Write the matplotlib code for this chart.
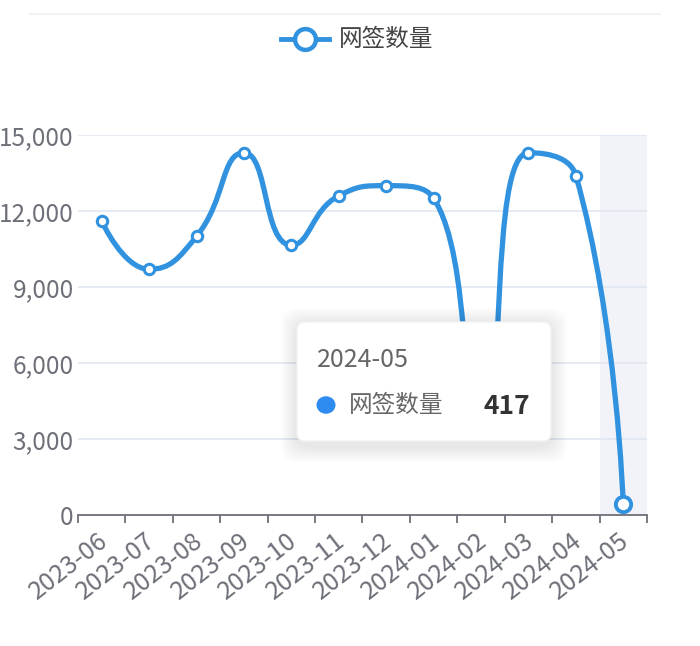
import matplotlib.pyplot as plt
import numpy as np
import matplotlib.transforms as mtrans
from matplotlib.patches import FancyBboxPatch, Circle
from matplotlib.path import Path
from matplotlib.patches import PathPatch
from matplotlib.lines import Line2D

plt.rcParams['font.family'] = ['Noto Sans CJK SC', 'DejaVu Sans']

months = ['2023-06', '2023-07', '2023-08', '2023-09', '2023-10', '2023-11',
          '2023-12', '2024-01', '2024-02', '2024-03', '2024-04', '2024-05']
signed = [11600, 9700, 11000, 14300, 10650, 12600,
          13000, 12500, 3400, 14300, 13400, 417]
series_name = '网签数量'
hover_idx = 11

blue = '#3192DF'
grey_txt = '#6E7079'
W, H = 700, 646


def fx(px):
    return px / W


def fy(py):
    return 1 - py / H


def echarts_smooth(pts, smooth=0.5):
    # echarts-style smoothed bezier path through pixel points
    verts = [tuple(pts[0])]
    codes = [Path.MOVETO]
    n = len(pts)
    cp0 = pts[0].copy()
    for k in range(1, n):
        x, y = pts[k]
        px_, py_ = pts[k - 1]
        if k == n - 1:
            cp1 = np.array([x, y])
            ncp = np.array([x, y])
        else:
            nx, ny = pts[k + 1]
            vx, vy = nx - px_, ny - py_
            lp = np.hypot(x - px_, y - py_)
            ln = np.hypot(nx - x, ny - y)
            r = ln / (ln + lp)
            ncx = x + vx * smooth * r
            ncy = y + vy * smooth * r
            ncx = min(max(ncx, min(nx, x)), max(nx, x))
            ncy = min(max(ncy, min(ny, y)), max(ny, y))
            vx, vy = ncx - x, ncy - y
            c1x = x - vx * lp / ln
            c1y = y - vy * lp / ln
            c1x = min(max(c1x, min(px_, x)), max(px_, x))
            c1y = min(max(c1y, min(py_, y)), max(py_, y))
            vx, vy = x - c1x, y - c1y
            cp1 = np.array([c1x, c1y])
            ncp = np.array([x + vx * ln / lp, y + vy * ln / lp])
        verts += [tuple(cp0), tuple(cp1), (x, y)]
        codes += [Path.CURVE4] * 3
        cp0 = ncp
    return Path(verts, codes)


fig = plt.figure(figsize=(7, 6.46), dpi=100)
ax = fig.add_axes([fx(78), fy(515), fx(647 - 78), fy(135) - fy(515)])

x = np.arange(len(months))
ax.set_xlim(-0.5, len(months) - 0.5)
ax.set_ylim(0, 15000)

# hover shadow band
ax.axvspan(hover_idx - 0.5, hover_idx + 0.5, color='#F1F3F9', lw=0, zorder=0)

ax.set_yticks(np.arange(0, 15001, 3000))
ax.set_yticklabels([f'{v:,}' for v in range(0, 15001, 3000)])
ax.grid(axis='y', color='#E0E6F1', lw=1.2, zorder=1)
ax.set_xticks(x)
ax.set_xticklabels(months, rotation=38, ha='right', va='top', rotation_mode='anchor')
ax.set_xticks(np.arange(-0.5, len(months)), minor=True)
ax.tick_params(axis='x', which='major', length=0, pad=9, labelsize=18, labelcolor=grey_txt)
ax.tick_params(axis='x', which='minor', length=6, width=1.3, color=grey_txt)
ax.tick_params(axis='y', length=0, pad=3, labelsize=17.5, labelcolor=grey_txt)
shift = mtrans.ScaledTranslation(-5 / 100, 0, fig.dpi_scale_trans)
for lab in ax.get_xticklabels():
    lab.set_transform(lab.get_transform() + shift)
for s in ['top', 'right', 'left']:
    ax.spines[s].set_visible(False)
ax.spines['bottom'].set_color(grey_txt)
ax.spines['bottom'].set_linewidth(1.3)
ax.spines['bottom'].set_zorder(3)

# smoothed line computed in display space
fig.canvas.draw()
disp = ax.transData.transform(np.column_stack([x, signed]))
path_px = echarts_smooth(disp)
path_data = ax.transData.inverted().transform_path(path_px)
ax.add_patch(PathPatch(path_data, fill=False, edgecolor=blue, lw=3.8,
                       capstyle='round', joinstyle='round', zorder=4, clip_on=False))
ax.plot(x[:hover_idx], signed[:hover_idx], ls='none', marker='o', ms=7.5,
        mfc='white', mec=blue, mew=2.2, zorder=5, clip_on=False)
ax.plot(x[hover_idx], signed[hover_idx], ls='none', marker='o', ms=11,
        mfc='white', mec=blue, mew=2.8, zorder=5, clip_on=False)

# top faint separator
fig.add_artist(Line2D([fx(30), fx(660)], [fy(14), fy(14)], color='#F2F2F2', lw=1.5))

# legend
fig.add_artist(Line2D([fx(281), fx(329)], [fy(39), fy(39)], color=blue, lw=3.5))
fig.add_artist(Line2D([fx(305)], [fy(39)], marker='o', ms=15, mfc='white', mec=blue, mew=3.2))
fig.text(fx(339), fy(39), series_name, fontsize=17, color='#444444', va='center', ha='left')

# tooltip with soft shadow
for i in range(8):
    g = 16 - i * 2
    fig.add_artist(FancyBboxPatch((fx(297 - g), fy(446 + g)), fx(254 + 2 * g), fy(324 - g) - fy(446 + g),
                                  boxstyle='round,pad=0,rounding_size=0.025', transform=fig.transFigure,
                                  fc='#000000', ec='none', alpha=0.012, zorder=10))
fig.add_artist(FancyBboxPatch((fx(297), fy(441)), fx(254), fy(322) - fy(441),
                              boxstyle='round,pad=0,rounding_size=0.012', transform=fig.transFigure,
                              fc='white', ec='#F2F2F2', lw=1, zorder=11))
fig.text(fx(317), fy(360), months[hover_idx], fontsize=18, color='#666666',
         va='center', ha='left', zorder=12)
fig.add_artist(Circle((fx(326), fy(405)), 9.5 / W, transform=fig.transFigure,
                      fc='#2E8BEF', ec='none', zorder=12))
fig.text(fx(349), fy(405), series_name, fontsize=17, color='#666666',
         va='center', ha='left', zorder=12)
fig.text(fx(530), fy(406), f'{signed[hover_idx]}', fontsize=19, color='#333333',
         fontweight='bold', va='center', ha='right', zorder=12)

fig.savefig('out.png', dpi=100, facecolor='white')
